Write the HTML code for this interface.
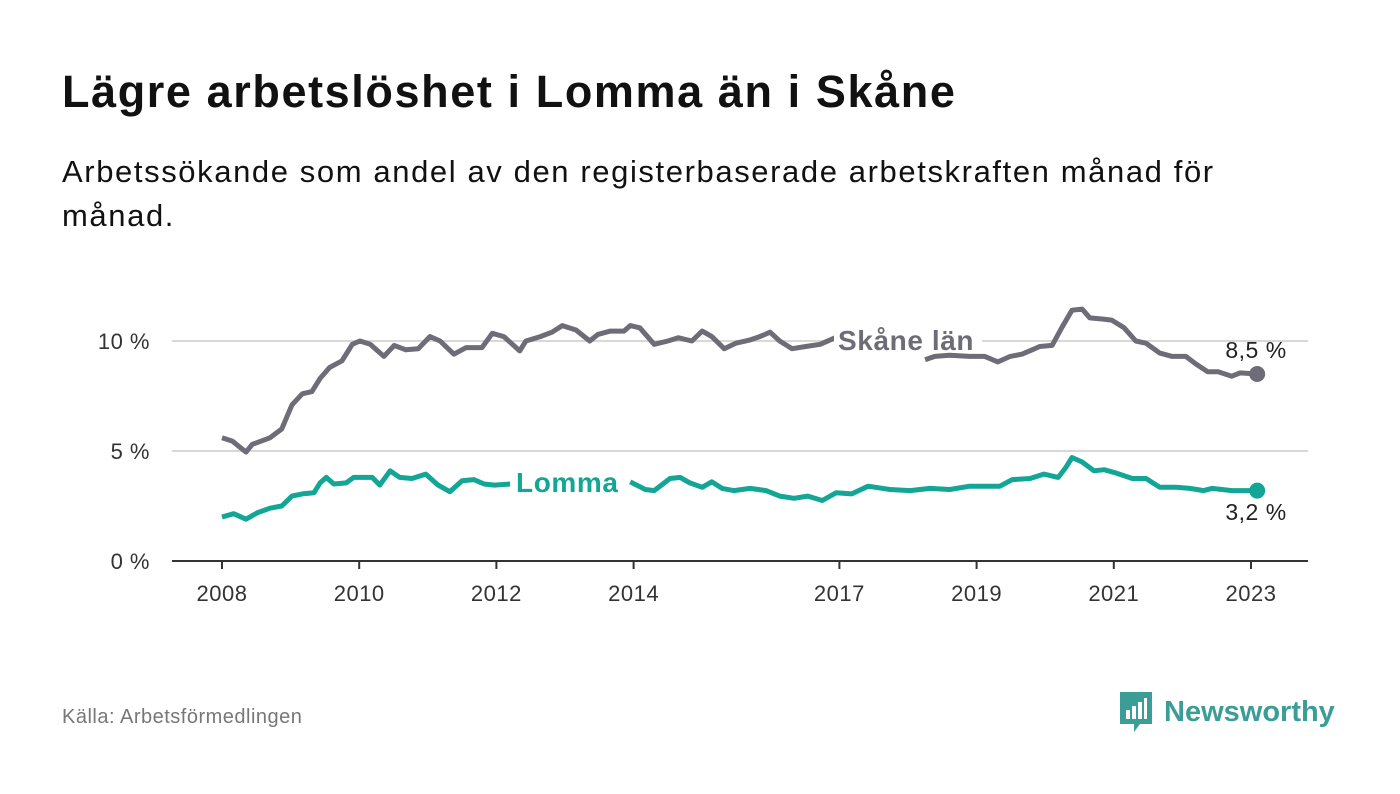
<!DOCTYPE html>
<html><head><meta charset="utf-8">
<style>
body{margin:0;background:#fff;width:1400px;height:794px;overflow:hidden;font-family:"Liberation Sans","DejaVu Sans",sans-serif;}
#title{position:absolute;left:62px;top:66px;font-size:45px;letter-spacing:1.6px;font-weight:bold;color:#111;margin:0;}
#sub{position:absolute;left:62px;top:150px;width:1300px;font-size:31px;letter-spacing:1.6px;line-height:44px;color:#111;margin:0;}
#src{position:absolute;left:62px;top:706px;font-size:20px;letter-spacing:0.5px;color:#777;}
#logo{position:absolute;left:1118px;top:690px;display:flex;align-items:center;font-size:29px;font-weight:bold;color:#3a9e96;}
svg{position:absolute;left:0;top:0;}
</style></head><body>
<h1 id="title">Lägre arbetslöshet i Lomma än i Skåne</h1>
<p id="sub">Arbetssökande som andel av den registerbaserade arbetskraften månad för<br>månad.</p>
<svg id="chart" width="1400" height="794"></svg>
<div id="src">Källa: Arbetsförmedlingen</div>
<div id="logo">
<svg style="position:static;margin-right:10px" width="36" height="44" viewBox="0 0 36 44"><path d="M2 2h32v32H22l-6 8v-8H2z" fill="#3a9e96"/><rect x="8" y="20" width="4" height="9" fill="#fff"/><rect x="14" y="16" width="4" height="13" fill="#fff"/><rect x="20" y="12" width="4" height="17" fill="#fff"/><rect x="26" y="8" width="3" height="21" fill="#fff"/></svg>Newsworthy</div>
<script>
const yTicks=[0,5,10];
const yTickLabels=["0 %","5 %","10 %"];
const xTicks=[0,2,4,6,9,11,13,15];
const xTickLabels=["2008","2010","2012","2014","2017","2019","2021","2023"];
const skaneT=[0,.15,.35,.44,.70,.87,1.02,1.17,1.31,1.43,1.57,1.75,1.90,2.01,2.16,2.36,2.51,2.68,2.86,3.03,3.18,3.38,3.56,3.79,3.94,4.11,4.34,4.43,4.64,4.81,4.96,5.16,5.36,5.48,5.66,5.86,5.95,6.09,6.30,6.50,6.65,6.85,7.00,7.14,7.32,7.49,7.70,7.84,7.99,8.13,8.31,8.51,8.72,8.94,9.6,10.25,10.39,10.61,10.90,11.12,11.31,11.49,11.66,11.81,11.92,12.10,12.24,12.39,12.54,12.65,12.83,12.97,13.15,13.32,13.47,13.67,13.85,14.05,14.20,14.37,14.52,14.72,14.84,15.09];
const skaneV=[5.6,5.45,4.95,5.3,5.6,6.0,7.1,7.6,7.7,8.3,8.8,9.1,9.85,10.0,9.85,9.3,9.8,9.6,9.65,10.2,10.0,9.4,9.7,9.7,10.35,10.2,9.55,10.0,10.2,10.4,10.7,10.5,10.0,10.3,10.45,10.45,10.7,10.6,9.85,10.0,10.15,10.0,10.45,10.2,9.65,9.9,10.05,10.2,10.4,10.0,9.65,9.75,9.85,10.15,null,9.15,9.3,9.35,9.3,9.3,9.05,9.3,9.4,9.6,9.75,9.8,10.6,11.4,11.45,11.05,11.0,10.95,10.6,10.0,9.9,9.45,9.3,9.3,8.95,8.6,8.6,8.4,8.55,8.5];
const lommaT=[0,.17,.35,.52,.70,.87,1.02,1.17,1.34,1.43,1.52,1.63,1.81,1.92,2.19,2.30,2.45,2.59,2.77,2.97,3.15,3.32,3.50,3.67,3.82,3.97,4.20,5.0,5.95,6.17,6.30,6.53,6.68,6.82,7.00,7.14,7.29,7.46,7.70,7.93,8.13,8.34,8.54,8.75,8.95,9.18,9.42,9.74,10.03,10.32,10.61,10.90,11.12,11.34,11.52,11.78,11.98,12.19,12.30,12.39,12.54,12.71,12.86,13.03,13.27,13.47,13.67,13.91,14.11,14.31,14.43,14.72,15.09];
const lommaV=[2.0,2.15,1.9,2.2,2.4,2.5,2.95,3.05,3.1,3.55,3.8,3.5,3.55,3.8,3.8,3.45,4.1,3.8,3.75,3.95,3.45,3.15,3.65,3.7,3.5,3.45,3.5,null,3.6,3.25,3.2,3.75,3.8,3.55,3.35,3.6,3.3,3.2,3.3,3.2,2.95,2.85,2.95,2.75,3.1,3.05,3.4,3.25,3.2,3.3,3.25,3.4,3.4,3.4,3.7,3.75,3.95,3.8,4.25,4.7,4.5,4.1,4.15,4.0,3.75,3.75,3.35,3.35,3.3,3.2,3.3,3.2,3.2];
const NS="http://www.w3.org/2000/svg";
const svg=document.getElementById('chart');
const X=t=>222+t*68.6;
const Y=v=>561-v*22;
function el(tag,a,parent){const e=document.createElementNS(NS,tag);for(const k in a)e.setAttribute(k,a[k]);(parent||svg).appendChild(e);return e;}
yTicks.forEach((v,i)=>{
  if(v>0){const g=el('line',{x1:172,x2:1308,y1:Y(v),y2:Y(v),stroke:'#d8d8d8','stroke-width':2});
  
  }
  const t=el('text',{x:150,y:Y(v)+8,'text-anchor':'end','font-size':22,'letter-spacing':0.5,fill:'#333'});t.textContent=yTickLabels[i];
  
  
});
const ax=el('line',{x1:172,x2:1308,y1:561,y2:561,stroke:'#333','stroke-width':2});


xTicks.forEach((v,i)=>{
  const tk=el('line',{x1:X(v),x2:X(v),y1:561,y2:569,stroke:'#333','stroke-width':2});
  
  
  const t=el('text',{x:X(v),y:601,'text-anchor':'middle','font-size':22,'letter-spacing':0.5,fill:'#333'});t.textContent=xTickLabels[i];
  
  
});
function series(T,V,color,name){
  let d='',pen=false;
  T.forEach((t,i)=>{
    if(V[i]===null){pen=false;return;}
    d+=(pen?'L':'M')+X(t).toFixed(1)+' '+Y(V[i]).toFixed(1)+' ';pen=true;
  });
  const p=el('path',{d:d,fill:'none',stroke:color,'stroke-width':5,'stroke-linejoin':'round'});
  
  
  const n=T.length-1;
  const c=el('circle',{cx:X(T[n]),cy:Y(V[n]),r:8,fill:color});
  
  
}
series(skaneT,skaneV,'#6e6c76','skane');
series(lommaT,lommaV,'#13a596','lomma');
function label(x,y,w,txt,color,name){
  el('rect',{x:x-4,y:y-24,width:w,height:26,fill:'#fff'});
  const t=el('text',{x:x,y:y,'font-size':28,'font-weight':'bold','letter-spacing':0.6,fill:color});t.textContent=txt;
  
  
}
label(838,350,148,'Skåne län','#6e6c76','skane-series-label');
label(516,492,114,'Lomma','#13a596','lomma-series-label');
const e1=el('text',{x:1256,y:358,'text-anchor':'middle','font-size':23,'letter-spacing':0.5,fill:'#222'});e1.textContent='8,5 %';


const e2=el('text',{x:1256,y:520,'text-anchor':'middle','font-size':23,'letter-spacing':0.5,fill:'#222'});e2.textContent='3,2 %';


</script>
</body></html>
